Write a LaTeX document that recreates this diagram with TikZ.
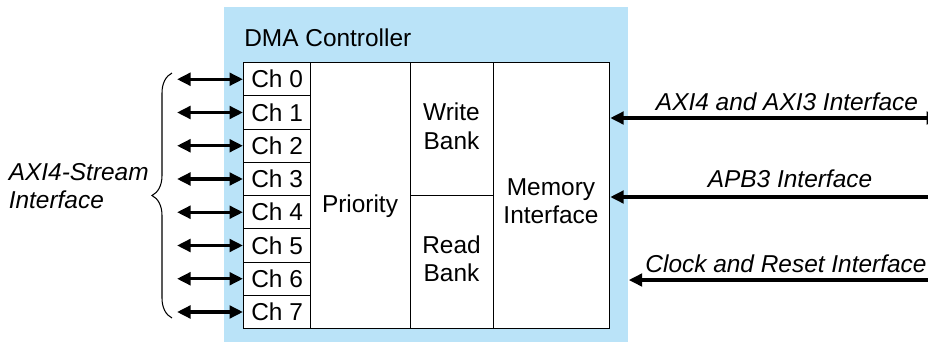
\documentclass[tikz,border=0pt]{standalone}
\usepackage{fontspec}
\setmainfont{Liberation Sans}
\usepackage{tikz}
\usetikzlibrary{arrows.meta}
\usetikzlibrary{calc}
\usetikzlibrary{decorations.pathreplacing}
\definecolor{dmablue}{RGB}{186,227,248}
\tikzset{
    >={Triangle[length=2.7mm,width=2.5mm]},
    txt/.style={inner sep=0pt, font=\fontsize{13.9}{16.2}\selectfont},
    itxt/.style={inner sep=0pt, font=\fontsize{13.9}{16.2}\selectfont\itshape},
    blk/.style={draw, line width=0.7pt, fill=white, anchor=north west, inner sep=0pt, font=\fontsize{13.9}{16.2}\selectfont},
    bus/.style={line width=1.9pt},
}

\begin{document}
\begin{tikzpicture}[x=0.2mm,y=-0.2mm]
            \useasboundingbox (0,0) rectangle (928,342);
            \node[fill=dmablue, anchor=north west, inner sep=0pt, minimum width=404*0.2mm, minimum height=335*0.2mm] (dma) at (224,7) {};
            \node[txt, anchor=west] (dmatxt) at (244,37.5) {DMA Controller};
            \foreach \i in {0,...,7}{
                \node[blk, minimum width=67*0.2mm, minimum height=33.25*0.2mm] (ch\i) at (243,62+33.25*\i) {Ch \i};
                \draw[bus,<->] ($(ch\i.west)+(-66,0)$) -- (ch\i.west);
            }
            \node[blk, minimum width=100*0.2mm, minimum height=266*0.2mm] (prio) at (310,62) {};
            \node[blk, minimum width=83*0.2mm, minimum height=133*0.2mm] (wbank) at (410,62) {};
            \node[blk, minimum width=83*0.2mm, minimum height=133*0.2mm] (rbank) at (410,195) {};
            \node[blk, minimum width=116*0.2mm, minimum height=266*0.2mm] (mem) at (493,62) {};
            \node[txt, anchor=base] (priotxt) at (360,212.7) {Priority};
            \node[txt, align=center] (wbanktxt) at (451.5,126.3) {Write\\Bank};
            \node[txt, align=center] (rbanktxt) at (451.5,258.5) {Read\\Bank};
            \node[txt, align=center] (memtxt) at (551,201) {Memory\\Interface};
            \coordinate (axiend) at (940,118);
            \coordinate (apbend) at (935,197);
            \coordinate (clkend) at (935,280);
            \draw[bus,<->] (mem.east |- axiend) -- (axiend);
            \draw[bus,<-] (mem.east |- apbend) -- (apbend);
            \draw[bus,<-] (dma.east |- clkend) -- (clkend);
            \node[itxt] (axitxt) at (787,101.5) {AXI4 and AXI3 Interface};
            \node[itxt] (apbtxt) at (790,178.5) {APB3 Interface};
            \node[itxt] (clktxt) at (786,263.5) {Clock and Reset Interface};
            \draw[line width=0.6pt, decorate, decoration={brace, amplitude=4mm}] (172,318) -- (172,73);
            \node[itxt, align=left, anchor=east] (axistxt) at (149,186) {AXI4-Stream\\Interface};
        \end{tikzpicture}
\end{document}
